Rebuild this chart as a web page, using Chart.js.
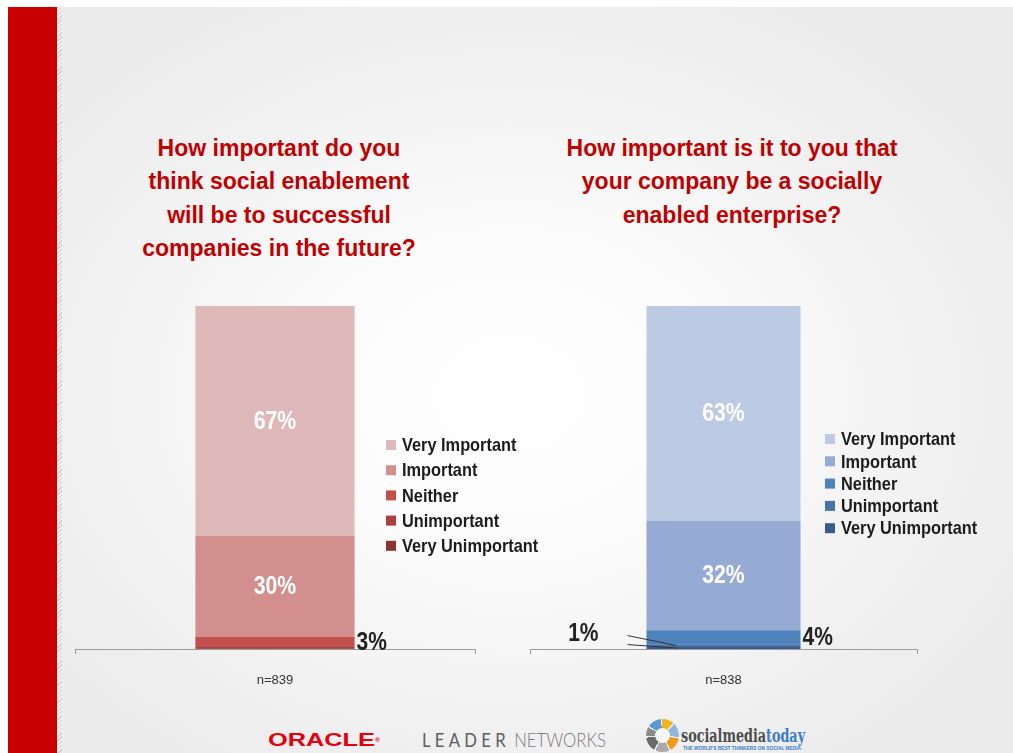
<!DOCTYPE html>
<html>
<head>
<meta charset="utf-8">
<script src="https://cdn.jsdelivr.net/npm/chart.js@4.4.1/dist/chart.umd.min.js"></script>
<style>
html,body{margin:0;padding:0;width:1013px;height:753px;overflow:hidden;background:#ffffff;}
#page{position:absolute;left:8px;top:7px;width:1005px;height:746px;
  background:radial-gradient(ellipse 60% 62% at 50% 52%, #ffffff 0%, #fbfbfb 35%, #f0f0f0 75%, #ebebeb 100%);}
#redbar{position:absolute;left:8px;top:7px;width:49px;height:746px;background:#c80000;}
#hatch{position:absolute;left:57px;top:7px;width:5px;height:746px;
  background:repeating-linear-gradient(135deg,#cfcfcf 0px,#cfcfcf 1px,#efefef 1px,#efefef 3px);}
.title{position:absolute;top:132px;font:bold 23px "Liberation Sans",Arial,sans-serif;color:#c00000;
  text-align:center;line-height:33.3px;white-space:nowrap;transform:translateX(-50%);}
.cv{position:absolute;top:290px;}
.logo{position:absolute;white-space:nowrap;transform-origin:0 0;}
#oracle{left:268px;top:730px;font:bold 19px "Liberation Sans",Arial,sans-serif;color:#e3000f;line-height:20px;}
#oracle sup{font-size:5px;vertical-align:top;}
#leader{left:422px;top:729px;font:19.5px Lato,"Liberation Sans",sans-serif;line-height:22px;}
#leader .a{color:#5e5e5e;letter-spacing:5px;font-weight:400;}
#leader .b{color:#7a7a7a;font-weight:300;}
#smticon{position:absolute;left:646px;top:719px;width:33px;height:33px;border-radius:50%;
  background:conic-gradient(#f3b323 0deg 40deg,#eeeeee 40deg 46deg,#8fb7df 46deg 95deg,#eeeeee 95deg 101deg,#f39a1e 101deg 150deg,#eeeeee 150deg 156deg,#a9a9a9 156deg 205deg,#eeeeee 205deg 211deg,#6b6b6b 211deg 262deg,#eeeeee 262deg 268deg,#8a8a8a 268deg 300deg,#eeeeee 300deg 306deg,#5b9bd5 306deg 354deg,#eeeeee 354deg 360deg);}
#smticon:after{content:"";position:absolute;left:9px;top:9px;width:15px;height:15px;border-radius:50%;background:#f4f6f8;}
#smt{left:681px;top:726px;font:bold 18px "DejaVu Serif",serif;line-height:20px;}
#smt .a{color:#4d4d4d;} #smt .b{color:#3d7cc9;}
#smtsub{left:683px;top:745px;font:bold 5px "Liberation Sans",Arial,sans-serif;color:#3d7cc9;line-height:6px;}
</style>
</head>
<body>
<div id="page"></div>
<div id="redbar"></div>
<div id="hatch"></div>

<div class="title" style="left:279px;">How important do you<br>think social enablement<br>will be to successful<br>companies in the future?</div>
<div class="title" style="left:732px;">How important is it to you that<br>your company be a socially<br>enabled enterprise?</div>

<div class="cv" style="left:60px;"><canvas id="c1" width="480" height="410"></canvas></div>
<div class="cv" style="left:510px;"><canvas id="c2" width="480" height="410"></canvas></div>

<div id="oracle" class="logo" data-w="112">ORACLE<sup>®</sup></div>
<div id="leader" class="logo" data-w="184"><span class="a">LEADER</span> <span class="b">NETWORKS</span></div>
<div id="smticon"></div>
<div id="smt" class="logo" data-w="124"><span class="a">socialmedia</span><span class="b">today</span></div>
<div id="smtsub" class="logo" data-w="118">THE WORLD'S BEST THINKERS ON SOCIAL MEDIA</div>

<script>
// ---- data ----
const responses = ['Very Important', 'Important', 'Neither', 'Unimportant', 'Very Unimportant'];
const futureValues = [67, 29.5, 2.9, 0.35, 0.25];
const futureLabels = ['67%', '30%', '3%', '', ''];
const futureSample = ['n=839'];
const companyValues = [62.6, 31.9, 4.1, 0.8, 0.6];
const companyLabels = ['63%', '32%', '4%', '1%', ''];
const companySample = ['n=838'];

// ---- styles ----
const redPalette = ['#dfb9b9', '#d28f8e', '#c2504d', '#a9403e', '#8a3534'];
const bluePalette = ['#bccae3', '#96abd4', '#4f81bd', '#4674aa', '#375b8a'];
const narrow = 'Liberation Sans, Arial, sans-serif';

function drawNarrow(ctx, text, x, y, size, color, align, sx) {
  ctx.save();
  ctx.font = 'bold ' + size + 'px ' + narrow;
  ctx.fillStyle = color;
  ctx.textAlign = align;
  ctx.textBaseline = 'middle';
  ctx.translate(x, y);
  ctx.scale(sx, 1);
  ctx.fillText(text, 0, 0);
  ctx.restore();
}

const segLabels = {
  id: 'segLabels',
  afterDatasetsDraw(chart, args, opts) {
    const ctx = chart.ctx;
    const n = chart.data.datasets.length;
    opts.texts.forEach((txt, i) => {
      if (!txt) return;
      const bar = chart.getDatasetMeta(n - 1 - i).data[0];
      const left = bar.x - bar.width / 2, right = bar.x + bar.width / 2;
      const cy = (bar.y + bar.base) / 2;
      const side = opts.sides[i];
      if (side === 'in') {
        drawNarrow(ctx, txt, bar.x, cy + 1, 25, '#ffffff', 'center', 0.85);
      } else if (side === 'right') {
        drawNarrow(ctx, txt, right + 2, cy + 1, 25, '#222222', 'left', 0.84);
      } else if (side === 'left') {
        drawNarrow(ctx, txt, left - 48, cy - 11, 25, '#222222', 'right', 0.84);
        ctx.save();
        ctx.strokeStyle = '#333333';
        ctx.lineWidth = 1;
        [i, i + 1].forEach((k, j) => {
          const b = chart.getDatasetMeta(n - 1 - k).data[0];
          const y = (b.y + b.base) / 2;
          ctx.beginPath();
          ctx.moveTo(left - 19, cy - 10 + j * 9);
          ctx.lineTo(left + 30, y);
          ctx.stroke();
        });
        ctx.restore();
      }
    });
  }
};

const sideLegend = {
  id: 'sideLegend',
  afterDraw(chart, args, opts) {
    const ctx = chart.ctx;
    const n = chart.data.datasets.length;
    for (let i = 0; i < n; i++) {
      const ds = chart.data.datasets[n - 1 - i];
      const y = opts.y + i * opts.spacing;
      ctx.fillStyle = ds.backgroundColor;
      ctx.fillRect(opts.x, y - 5, 10, 10);
      drawNarrow(ctx, ds.label, opts.x + 16, y + 1, 19, '#1c1c1c', 'left', 0.86);
    }
  }
};

function build(id, sample, values, labels, palette, pad, legendPos, sides) {
  const datasets = [];
  for (let i = responses.length - 1; i >= 0; i--) {
    datasets.push({
      label: responses[i],
      data: [values[i]],
      backgroundColor: palette[i],
      borderWidth: 0,
      barPercentage: 0.398,
      categoryPercentage: 1
    });
  }
  return new Chart(document.getElementById(id), {
    type: 'bar',
    data: { labels: sample, datasets },
    options: {
      responsive: false,
      animation: false,
      layout: { padding: pad },
      plugins: {
        legend: { display: false },
        tooltip: { enabled: false },
        segLabels: { texts: labels, sides },
        sideLegend: legendPos
      },
      scales: {
        x: {
          stacked: true,
          grid: { display: true, drawOnChartArea: false, drawTicks: true, tickLength: 5, color: '#9c9c9c', offset: true },
          border: { display: true, color: '#9c9c9c', width: 1 },
          ticks: { font: { family: 'Liberation Sans, Arial, sans-serif', size: 13 }, color: '#333333', padding: 19 },
          afterFit(s) { s.height = 51; }
        },
        y: { stacked: true, display: false, min: 0, max: 100 }
      }
    },
    plugins: [segLabels, sideLegend]
  });
}

build('c1', futureSample, futureValues, futureLabels, redPalette,
  { top: 16, left: 15, right: 65, bottom: 0 },
  { x: 326, y: 155, spacing: 25.2 },
  ['in', 'in', 'right', 'none', 'none']);
build('c2', companySample, companyValues, companyLabels, bluePalette,
  { top: 16, left: 20, right: 73, bottom: 0 },
  { x: 315, y: 149, spacing: 22.3 },
  ['in', 'in', 'right', 'left', 'none']);

document.querySelectorAll('.logo[data-w]').forEach(el => {
  const w = parseFloat(el.getAttribute('data-w'));
  el.style.transform = 'scaleX(' + (w / el.offsetWidth) + ')';
});
</script>
</body>
</html>
